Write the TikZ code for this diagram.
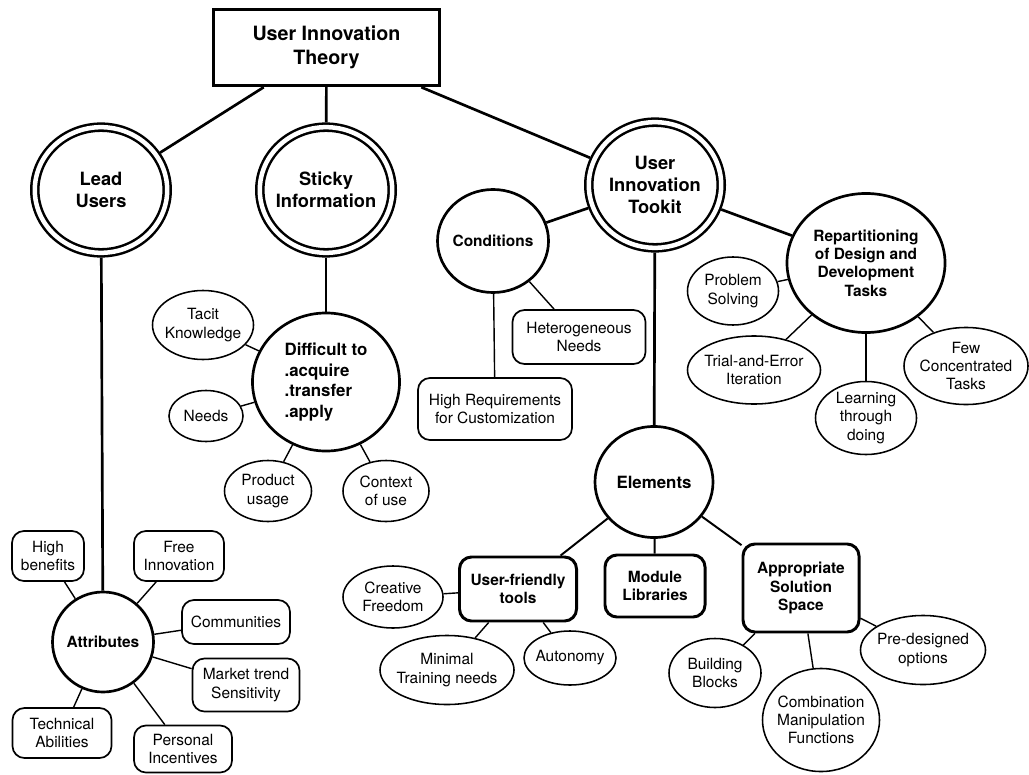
\documentclass[tikz,border=0pt]{standalone}
\usepackage{fontspec}
\setmainfont{TeX Gyre Heros}
\usetikzlibrary{shapes.geometric}
\begin{document}
\begin{tikzpicture}[
  x=0.025cm, y=-0.025cm,
  sz/.style 2 args={minimum width=#1cm, minimum height=#2cm},
  base/.style={align=center, font=\fontsize{11}{13}\selectfont},
  leaf/.style={base, ellipse, draw, line width=1.1pt, inner sep=-30pt},
  box/.style={base, rectangle, rounded corners=0.3cm, draw, line width=1.2pt, inner sep=2pt},
  boldbox/.style={box, line width=2.1pt, font=\fontsize{11}{13}\selectfont\bfseries},
  hub/.style={base, ellipse, draw, line width=1.9pt, inner sep=-30pt,
    font=\fontsize{11}{13}\selectfont\bfseries},
  bighub/.style={hub, font=\fontsize{12}{14.7}\selectfont\bfseries},
  major/.style={base, ellipse, draw, line width=1.8pt, double, double distance=3.2pt,
    outer sep=3.4pt, inner sep=-30pt, sz={3.31}{3.14},
    font=\fontsize{13}{15.6}\selectfont\bfseries},
  root/.style={base, rectangle, draw, line width=2.4pt, sz={5.65}{1.9},
    font=\fontsize{14}{17}\selectfont\bfseries},
  link/.style={line width=1.9pt},
  sublink/.style={line width=1.4pt},
  leaflink/.style={line width=1pt}
]
\useasboundingbox (0,0) rectangle (1029,774);

% root and first level
\node[root] (uit) at (326.5,47.5) {User Innovation\\Theory};
\node[major] (lead) at (101,190) {Lead\\Users};
\node[major] (sticky) at (326,190) {Sticky\\Information};
\node[major] (kit) at (655,185) {User\\Innovation\\Tookit};

% lead users branch
\node[hub, sz={2.525}{2.5}] (attr) at (103,642) {Attributes};
\node[box, sz={1.8}{1.25}] (highben) at (48,556) {High\\benefits};
\node[box, sz={2.25}{1.25}] (free) at (179,556) {Free\\Innovation};
\node[box, sz={2.7}{1.1}] (comm) at (236,622) {Communities};
\node[box, sz={2.675}{1.325}] (market) at (246,685) {Market trend\\Sensitivity};
\node[box, sz={2.475}{1.25}] (tech) at (62,733) {Technical\\Abilities};
\node[box, sz={2.45}{1.175}] (pers) at (183,749) {Personal\\Incentives};

% sticky information branch
\node[bighub, sz={3.675}{3.45}, align=left] (diff) at (326,382)
  {Difficult to\\.acquire\\.transfer\\.apply};
\node[leaf, sz={2.525}{1.725}] (tacit) at (203,325) {Tacit\\Knowledge};
\node[leaf, sz={1.85}{1.275}] (needs) at (206,416) {Needs};
\node[leaf, sz={2.175}{1.525}] (usage) at (268,491) {Product\\usage};
\node[leaf, sz={2.15}{1.525}] (context) at (386,491) {Context\\of use};

% toolkit branch: conditions
\node[hub, sz={2.775}{2.575}] (cond) at (493,241) {Conditions};
\node[box, sz={3.325}{1.35}] (hetero) at (579,337) {Heterogeneous\\Needs};
\node[box, sz={3.85}{1.55}] (custom) at (495,409) {High Requirements\\for Customization};

% toolkit branch: repartitioning
\node[hub, sz={3.95}{3.475}] (rep) at (866,263)
  {Repartitioning\\of Design and\\Development\\Tasks};
\node[leaf, sz={2.275}{1.7}] (problem) at (733,291) {Problem\\Solving};
\node[leaf, sz={3.325}{1.7}] (trial) at (754,370) {Trial-and-Error\\Iteration};
\node[leaf, sz={2.525}{1.825}] (learn) at (866,418) {Learning\\through\\doing};
\node[leaf, sz={3.1}{1.925}] (few) at (966,366) {Few\\Concentrated\\Tasks};

% toolkit branch: elements
\node[bighub, sz={2.95}{2.775}] (elem) at (654,482) {Elements};
\node[boldbox, sz={2.925}{1.6}] (tools) at (518,589) {User-friendly\\tools};
\node[boldbox, sz={2.5}{1.55}] (module) at (655,586) {Module\\Libraries};
\node[boldbox, sz={2.9}{2.2}] (space) at (801,588) {Appropriate\\Solution\\Space};
\node[leaf, sz={2.5}{1.55}] (creative) at (393,597) {Creative\\Freedom};
\node[leaf, sz={3.35}{1.725}] (minimal) at (447,670) {Minimal\\Training needs};
\node[leaf, sz={2.3}{1.35}] (autonomy) at (570,658) {Autonomy};
\node[leaf, sz={2.3}{1.725}] (blocks) at (715,673) {Building\\Blocks};
\node[leaf, sz={2.925}{2.575}] (combo) at (821,720) {Combination\\Manipulation\\Functions};
\node[leaf, sz={3.125}{1.725}] (predes) at (923,650) {Pre-designed\\options};

% connectors
\draw[link] (uit) -- (lead);
\draw[link] (uit) -- (sticky);
\draw[link] (uit) -- (kit);
\draw[link] (lead) -- (attr);
\draw[link] (sticky) -- (diff);
\draw[link] (kit) -- (cond);
\draw[link] (kit) -- (rep);
\draw[link] (kit) -- (elem);

\foreach \t in {highben,free,comm,market,tech,pers}
  \draw[leaflink] (attr) -- (\t);
\foreach \t in {tacit,needs,usage,context}
  \draw[leaflink] (diff) -- (\t);
\foreach \t in {hetero,custom}
  \draw[leaflink] (cond) -- (\t);
\foreach \t in {problem,trial,learn,few}
  \draw[leaflink] (rep) -- (\t);
\foreach \t in {tools,module,space}
  \draw[sublink] (elem) -- (\t);
\foreach \t in {creative,minimal,autonomy}
  \draw[leaflink] (tools) -- (\t);
\foreach \t in {blocks,combo,predes}
  \draw[leaflink] (space) -- (\t);
\end{tikzpicture}
\end{document}
